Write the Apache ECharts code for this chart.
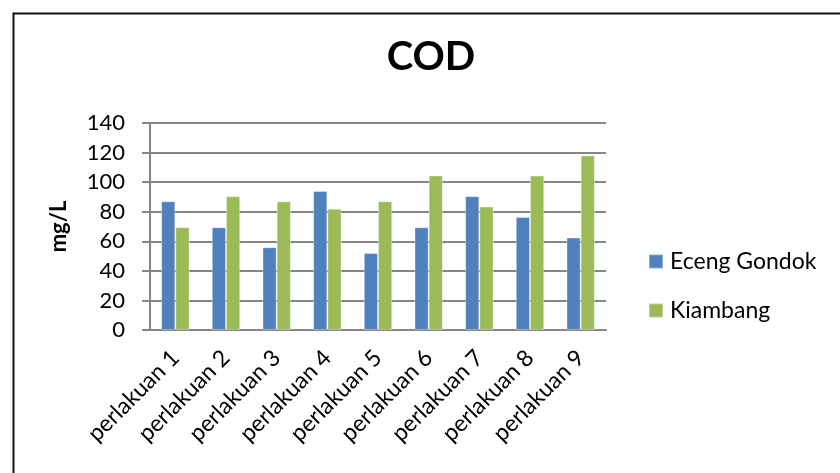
<!DOCTYPE html>
<html>
<head>
<meta charset="utf-8">
<script src="https://cdn.jsdelivr.net/npm/echarts@6/dist/echarts.min.js"></script>
<style>html,body{margin:0;padding:0;background:#fff}#c{width:840px;height:473px}</style>
</head>
<body>
<div id="c"></div>
<script>
var categories = ['perlakuan 1','perlakuan 2','perlakuan 3','perlakuan 4','perlakuan 5','perlakuan 6','perlakuan 7','perlakuan 8','perlakuan 9'];
var ecengGondok = [87, 69.5, 56, 94, 52, 69.5, 90.5, 76.5, 62.5];
var kiambang = [69.5, 90.5, 87, 82, 87, 104.5, 83.5, 104.5, 118];
var seriesNames = ['Eceng Gondok', 'Kiambang'];
var yTicks = {min: 0, max: 140, interval: 20};

var FONT = 'Lato';
var chart = echarts.init(document.getElementById('c'), null, {renderer: 'canvas'});
chart.setOption({
  animation: false,
  backgroundColor: '#fff',
  title: {
    text: 'COD', left: 431, top: 37, textAlign: 'center', padding: 0,
    textStyle: {fontFamily: FONT, fontWeight: 'bold', fontSize: 40, color: '#000'}
  },
  graphic: [{
    type: 'rect', left: 11, top: 11, silent: true,
    shape: {x: 0, y: 0, width: 900, height: 600},
    style: {fill: 'none', stroke: '#111', lineWidth: 2}
  }],
  legend: {
    orient: 'vertical', left: 643, top: 245,
    itemWidth: 14, itemHeight: 14, itemGap: 26,
    icon: 'rect',
    textStyle: {fontFamily: FONT, fontSize: 23, color: '#000', padding: [0, 0, 0, 2]},
    data: seriesNames
  },
  grid: {left: 150, right: 234, top: 123, bottom: 143, containLabel: false},
  xAxis: {
    type: 'category', data: categories,
    axisLine: {lineStyle: {color: '#868686', width: 2}},
    axisTick: {show: false},
    axisLabel: {rotate: 45, margin: 24, fontFamily: FONT, fontSize: 23, color: '#000', interval: 0}
  },
  yAxis: {
    type: 'value', min: yTicks.min, max: yTicks.max, interval: yTicks.interval,
    name: 'mg/L', nameLocation: 'middle', nameGap: 80, nameRotate: 90,
    nameTextStyle: {fontFamily: FONT, fontWeight: 'bold', fontSize: 22, color: '#000'},
    axisLine: {show: true, lineStyle: {color: '#868686', width: 2}},
    axisTick: {show: true, length: 8, lineStyle: {color: '#868686', width: 2}},
    splitLine: {lineStyle: {color: '#868686', width: 2}},
    axisLabel: {margin: 25, fontFamily: FONT, fontSize: 22, color: '#000'}
  },
  series: [{
    name: seriesNames[0], type: 'bar', data: ecengGondok,
    barWidth: '28%', barGap: '0%',
    itemStyle: {color: '#4F81BD', borderColor: 'rgba(255,255,255,0.35)', borderWidth: 1}
  }, {
    name: seriesNames[1], type: 'bar', data: kiambang,
    barWidth: '28%', barGap: '0%',
    itemStyle: {color: '#9BBB59', borderColor: 'rgba(255,255,255,0.35)', borderWidth: 1}
  }]
});
</script>
</body>
</html>
